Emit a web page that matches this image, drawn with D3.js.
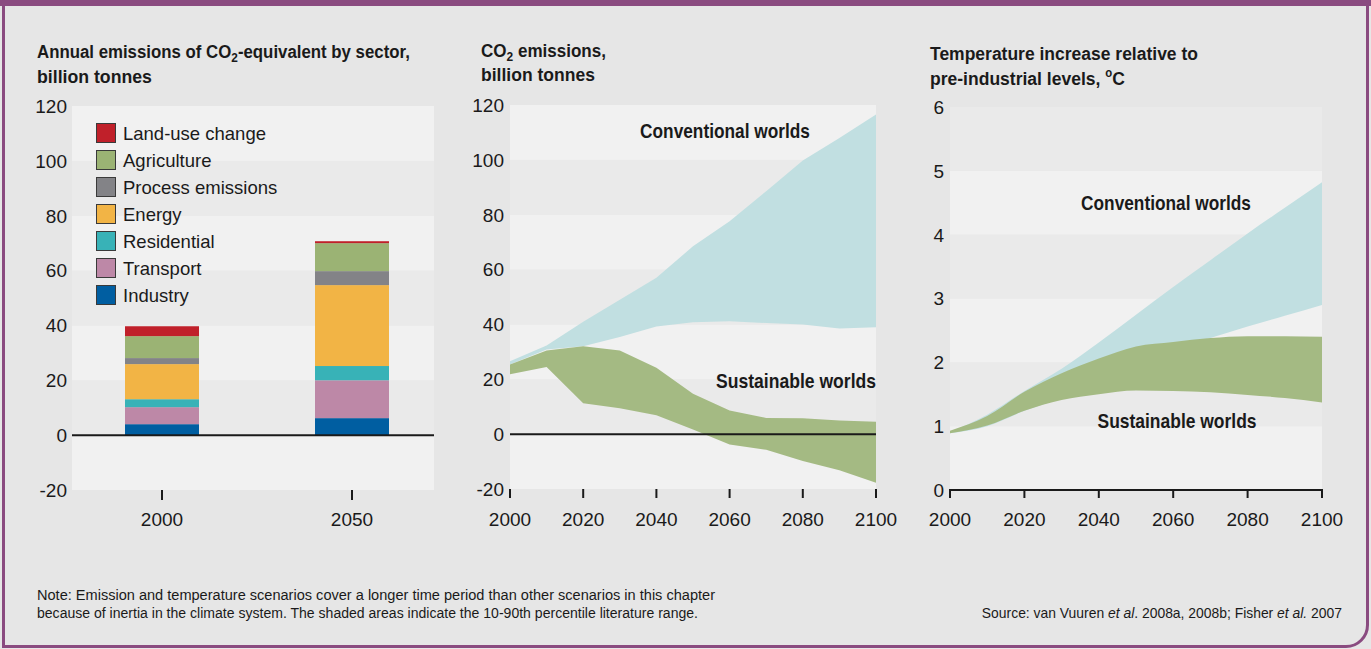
<!DOCTYPE html>
<html>
<head>
<meta charset="utf-8">
<script src="https://cdn.jsdelivr.net/npm/d3@7"></script>
<style>
  html, body { margin: 0; padding: 0; background: #e6e6e6; }
  svg { display: block; }
  .reg { font-family: "Liberation Sans", Arial, sans-serif; fill: #1a1a1a; }
  .bold { font-family: "Liberation Sans", Arial, sans-serif; font-weight: bold; fill: #1a1a1a; }
</style>
</head>
<body>
<script>
// ---------- DATA ----------
const barCategories = ["2000", "2050"];
const sectors = ["Industry", "Transport", "Residential", "Energy", "Process emissions", "Agriculture", "Land-use change"];
const sectorValues2000 = [4.0, 6.2, 2.9, 12.8, 2.2, 8.0, 3.6];
const sectorValues2050 = [6.2, 13.8, 5.2, 29.5, 5.1, 10.2, 0.7];
const sectorColors = ["#005ea1", "#bd88a7", "#38b2b7", "#f2b445", "#838387", "#9bb374", "#c0202a"];
const barTicks = [-20, 0, 20, 40, 60, 80, 100, 120];

const years = [2000, 2010, 2020, 2030, 2040, 2050, 2060, 2070, 2080, 2090, 2100];
const co2ConventionalHigh = [26.6, 32.3, 41.0, 49.0, 57.0, 68.5, 77.6, 88.6, 99.8, 108.0, 116.5];
const co2ConventionalLow  = [25.4, 30.9, 32.0, 35.4, 39.2, 40.8, 41.2, 40.5, 40.0, 38.5, 39.0];
const co2SustainableHigh  = [25.4, 30.5, 32.0, 30.5, 24.2, 14.7, 8.6, 5.9, 5.8, 5.0, 4.5];
const co2SustainableLow   = [21.8, 24.5, 11.3, 9.4, 6.9, 1.7, -3.8, -5.7, -9.8, -13.2, -17.7];
const co2Ticks = [-20, 0, 20, 40, 60, 80, 100, 120];

const tempConventionalHigh = [0.91, 1.18, 1.55, 1.90, 2.31, 2.745, 3.18, 3.60, 4.02, 4.42, 4.82];
const tempConventionalLow  = [0.89, 1.00, 1.24, 1.45, 1.75, 2.02, 2.22, 2.38, 2.56, 2.73, 2.90];
const tempSustainableHigh  = [0.93, 1.16, 1.54, 1.83, 2.06, 2.25, 2.32, 2.38, 2.41, 2.41, 2.40];
const tempSustainableLow   = [0.89, 1.01, 1.24, 1.41, 1.50, 1.56, 1.55, 1.53, 1.49, 1.44, 1.37];
const tempTicks = [0, 1, 2, 3, 4, 5, 6];
const yearTicks = [2000, 2020, 2040, 2060, 2080, 2100];

// ---------- SETUP ----------
const W = 1371, H = 649;
const svg = d3.select("body").append("svg").attr("width", W).attr("height", H);
svg.append("rect").attr("width", W).attr("height", H).attr("fill", "#e6e6e6");

const C = {
  light: "#f1f1f1", dark: "#eaeaea", blue: "#c1dfe1", green: "#a4ba83", ink: "#1a1a1a"
};

function bands(g, y, ticks, x0, x1, lightFirst) {
  for (let i = 0; i < ticks.length - 1; i++) {
    const a = ticks[i], b = ticks[i + 1];
    g.append("rect")
      .attr("x", x0).attr("width", x1 - x0)
      .attr("y", y(b)).attr("height", y(a) - y(b))
      .attr("fill", (i % 2 === 0) === lightFirst ? C.light : C.dark);
  }
}
function yLabels(g, y, ticks, xr) {
  g.selectAll(null).data(ticks).join("text")
    .attr("class", "reg")
    .attr("x", xr).attr("y", d => y(d)).attr("dy", "0.36em")
    .attr("text-anchor", "end").attr("font-size", 19)
    .text(d => d);
}
function xTicks(g, xs, yTop, len) {
  g.selectAll(null).data(xs).join("line")
    .attr("x1", d => d.x).attr("x2", d => d.x)
    .attr("y1", yTop).attr("y2", yTop + len)
    .attr("stroke", C.ink).attr("stroke-width", 2);
  g.selectAll(null).data(xs).join("text")
    .attr("class", "reg")
    .attr("x", d => d.x).attr("y", 526)
    .attr("text-anchor", "middle").attr("font-size", 19)
    .text(d => d.label);
}
// place a text horizontally squeezed to a target width (condensed look)
function squeeze(t, x, y, width, anchor) {
  const natural = t.node().getComputedTextLength();
  const s = width / natural;
  t.attr("text-anchor", anchor || "start").attr("x", 0).attr("y", 0)
    .attr("transform", `translate(${x},${y}) scale(${s},1)`);
}
function title(lines, x, ys, widths) {
  lines.forEach((parts, i) => {
    const t = svg.append("text").attr("class", "bold").attr("font-size", 18.5);
    parts.forEach(p => {
      const s = t.append("tspan").text(p.t);
      if (p.sub) s.attr("font-size", 13).attr("dy", 4);
      if (p.sup) s.attr("font-size", 12).attr("dy", -8);
      if (p.back) s.attr("dy", p.back);
    });
    squeeze(t, x, ys[i], widths[i], "start");
  });
}
function label(g, text, x, y, anchor, width) {
  const t = g.append("text").attr("class", "bold").attr("font-size", 19.5).text(text);
  squeeze(t, x, y, width, anchor);
}

// ---------- PANEL 1: stacked bars ----------
const g1 = svg.append("g");
const y1 = d3.scaleLinear().domain([-20, 120]).range([490, 106]);
const x1 = d3.scalePoint().domain(barCategories).range([162, 352]);
bands(g1, y1, barTicks, 72, 434, true);
yLabels(g1, y1, barTicks, 67);

const barData = [sectorValues2000, sectorValues2050].map((vals, ci) => {
  const o = { cat: barCategories[ci] };
  sectors.forEach((s, i) => o[s] = vals[i]);
  return o;
});
const stack = d3.stack().keys(sectors)(barData);
const barW = 74;
g1.selectAll("g.layer").data(stack).join("g")
  .attr("fill", (d, i) => sectorColors[i])
  .selectAll("rect").data(d => d).join("rect")
  .attr("x", d => x1(d.data.cat) - barW / 2).attr("width", barW)
  .attr("y", d => y1(d[1])).attr("height", d => y1(d[0]) - y1(d[1]));
g1.append("line").attr("x1", 72).attr("x2", 434).attr("y1", y1(0)).attr("y2", y1(0))
  .attr("stroke", C.ink).attr("stroke-width", 2);
xTicks(g1, barCategories.map(c => ({ x: x1(c), label: c })), 490, 10);

// legend
const legendItems = sectors.map((s, i) => ({ s, c: sectorColors[i] })).reverse();
const lg = g1.append("g");
legendItems.forEach((d, i) => {
  const yy = 123 + i * 27;
  lg.append("rect").attr("x", 96.5).attr("y", yy + 0.5).attr("width", 19).attr("height", 19)
    .attr("fill", d.c).attr("stroke", "#3a3a3a").attr("stroke-width", 1);
  lg.append("text").attr("class", "reg").attr("x", 123).attr("y", yy + 16.5)
    .attr("font-size", 18.5).text(d.s);
});

title([[{ t: "Annual emissions of CO" }, { t: "2", sub: true }, { t: "-equivalent by sector,", back: -4 }],
       [{ t: "billion tonnes" }]], 37, [58, 83], [373, 115]);

// ---------- PANEL 2: CO2 emissions ----------
const g2 = svg.append("g");
const x2 = d3.scaleLinear().domain([2000, 2100]).range([510, 876]);
const y2 = d3.scaleLinear().domain([-20, 120]).range([489, 105]);
bands(g2, y2, co2Ticks, 510, 876, true);
yLabels(g2, y2, co2Ticks, 504);
const area2 = (hi, lo) => d3.area().x((d, i) => x2(years[i])).y0((d, i) => y2(lo[i])).y1((d, i) => y2(hi[i]))(years);
g2.append("path").attr("d", area2(co2ConventionalHigh, co2ConventionalLow)).attr("fill", C.blue);
g2.append("path").attr("d", area2(co2SustainableHigh, co2SustainableLow)).attr("fill", C.green);
g2.append("line").attr("x1", 510).attr("x2", 876).attr("y1", y2(0)).attr("y2", y2(0))
  .attr("stroke", C.ink).attr("stroke-width", 2);
xTicks(g2, yearTicks.map(t => ({ x: x2(t), label: t })), 489, 9);
label(g2, "Conventional worlds", 725, 138, "middle", 170);
label(g2, "Sustainable worlds", 876, 388, "end", 160);

title([[{ t: "CO" }, { t: "2", sub: true }, { t: " emissions,", back: -4 }],
       [{ t: "billion tonnes" }]], 481, [57, 81], [125, 114]);

// ---------- PANEL 3: temperature ----------
const g3 = svg.append("g");
const x3 = d3.scaleLinear().domain([2000, 2100]).range([950, 1322]);
const y3 = d3.scaleLinear().domain([0, 6]).range([490, 107]);
bands(g3, y3, tempTicks, 950, 1322, true);
yLabels(g3, y3, tempTicks, 944);
const area3 = (hi, lo) => d3.area().curve(d3.curveMonotoneX)
  .x((d, i) => x3(years[i])).y0((d, i) => y3(lo[i])).y1((d, i) => y3(hi[i]))(years);
g3.append("path").attr("d", area3(tempConventionalHigh, tempConventionalLow)).attr("fill", C.blue);
g3.append("path").attr("d", area3(tempSustainableHigh, tempSustainableLow)).attr("fill", C.green);
g3.append("line").attr("x1", 949).attr("x2", 1323).attr("y1", y3(0)).attr("y2", y3(0))
  .attr("stroke", C.ink).attr("stroke-width", 2);
xTicks(g3, yearTicks.map(t => ({ x: x3(t), label: t })), 489, 9);
label(g3, "Conventional worlds", 1166, 210, "middle", 170);
label(g3, "Sustainable worlds", 1177, 428, "middle", 159);

title([[{ t: "Temperature increase relative to" }],
       [{ t: "pre-industrial levels, " }, { t: "o", sup: true }, { t: "C", back: 8 }]], 930, [60, 85], [268, 195]);

// ---------- FOOTER ----------
const note = svg.append("g");
note.append("text").attr("class", "reg").attr("x", 37).attr("y", 600).attr("font-size", 14)
  .attr("textLength", 678).attr("lengthAdjust", "spacingAndGlyphs")
  .text("Note: Emission and temperature scenarios cover a longer time period than other scenarios in this chapter");
note.append("text").attr("class", "reg").attr("x", 37).attr("y", 618).attr("font-size", 14)
  .attr("textLength", 661).attr("lengthAdjust", "spacingAndGlyphs")
  .text("because of inertia in the climate system. The shaded areas indicate the 10-90th percentile literature range.");
const src = svg.append("text").attr("class", "reg").attr("x", 1342).attr("y", 618)
  .attr("text-anchor", "end").attr("font-size", 13.9);
src.append("tspan").text("Source: van Vuuren ");
src.append("tspan").attr("font-style", "italic").text("et al");
src.append("tspan").text(". 2008a, 2008b; Fisher ");
src.append("tspan").attr("font-style", "italic").text("et al.");
src.append("tspan").text(" 2007");

// ---------- BORDER ----------
const purple = "#8a4b80";
svg.append("rect").attr("x", 0).attr("y", 0).attr("width", W).attr("height", 6).attr("fill", purple);
svg.append("path")
  .attr("d", "M3.5,0 V646.5 H1346 A21.5,21.5 0 0 0 1367.5,625 V0")
  .attr("fill", "none").attr("stroke", purple).attr("stroke-width", 3);
</script>
</body>
</html>
